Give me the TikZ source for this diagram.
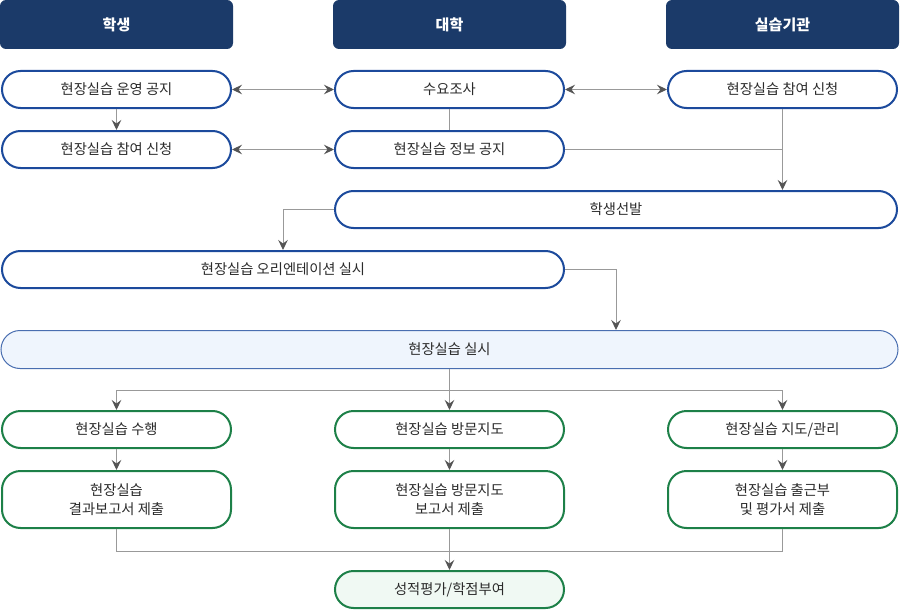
\documentclass[tikz,border=0pt]{standalone}
\usepackage{fontspec}
\setmainfont{Noto Sans CJK KR}
\usepackage{xcolor}
\usetikzlibrary{arrows.meta}

\definecolor{navy}{HTML}{1B3A69}
\definecolor{boxblue}{HTML}{1C4A9C}
\definecolor{boxgreen}{HTML}{1D8048}
\definecolor{lightblue}{HTML}{EFF5FD}
\definecolor{lightgreen}{HTML}{F0F9F3}
\definecolor{txt}{HTML}{2B2B2B}
\definecolor{wire}{HTML}{999999}
\definecolor{tip}{HTML}{555555}

\begin{document}
\begin{tikzpicture}[x=1pt,y=-1pt,
    head/.style={fill=navy,text=white,rounded corners=6pt,minimum width=233pt,
      minimum height=49pt,inner sep=0pt,font=\fontsize{15}{18}\selectfont\bfseries},
    bluebox/.style={draw=boxblue,line width=2pt,fill=white,rounded corners=18.5pt,
      minimum height=37pt,inner sep=0pt,text=txt,font=\fontsize{14.3}{19}\selectfont},
    greenbox/.style={bluebox,draw=boxgreen,align=center},
    run/.style={bluebox,line width=1pt,draw=boxblue!80,fill=lightblue,minimum height=38pt,rounded corners=19pt},
    wide/.style={minimum width=#1},
    link/.style={draw=wire,line width=1pt},
    arr/.style={link,-{Stealth[length=10pt,width=9.5pt,inset=3.5pt,color=tip]}},
    both/.style={link,{Stealth[length=10pt,width=9.5pt,inset=3.5pt,color=tip]}-{Stealth[length=10pt,width=9.5pt,inset=3.5pt,color=tip]}}]
      \useasboundingbox (0,0) rectangle (900,610);
      % headers
      \node[head] (hStu)  at (116.5,24.5) {학생};
      \node[head] (hUni)  at (449.5,24.5) {대학};
      \node[head] (hInst) at (782.5,24.5) {실습기관};
      % first stage
      \node[bluebox,wide=229pt] (notice)  at (116.5,89.5) {현장실습 운영 공지};
      \node[bluebox,wide=229pt] (apply)   at (116.5,149.5) {현장실습 참여 신청};
      \node[bluebox,wide=229pt] (survey)  at (449.5,89.5) {수요조사};
      \node[bluebox,wide=229pt] (info)    at (449.5,149.5) {현장실습 정보 공지};
      \node[bluebox,wide=229pt] (instApp) at (782.5,89.5) {현장실습 참여 신청};
      \node[bluebox,wide=562pt] (select)  at (616,209.5) {학생선발};
      \node[bluebox,wide=562pt] (orient)  at (283,269.5) {현장실습 오리엔테이션 실시};
      \node[run,wide=897pt]     (intern)  at (449.5,349.5) {현장실습 실시};
      % second stage
      \node[greenbox,wide=229pt] (perform) at (116.5,429.5) {현장실습 수행};
      \node[greenbox,wide=229pt] (visit)   at (449.5,429.5) {현장실습 방문지도};
      \node[greenbox,wide=229pt] (manage)  at (782.5,429.5) {현장실습 지도/관리};
      \node[greenbox,wide=229pt,minimum height=57pt] (result) at (116.5,499.5) {현장실습\\결과보고서 제출};
      \node[greenbox,wide=229pt,minimum height=57pt] (vrep)   at (449.5,499.5) {현장실습 방문지도\\보고서 제출};
      \node[greenbox,wide=229pt,minimum height=57pt] (attend) at (782.5,499.5) {현장실습 출근부\\및 평가서 제출};
      \node[greenbox,wide=229pt,fill=lightgreen] (grade) at (449.5,589.5) {성적평가/학점부여};
      % connectors
      \coordinate (split) at (449.5,390);
      \coordinate (merge) at (449.5,551);
      \draw[arr] (notice) -- (apply);
      \draw[both] (notice) -- (survey);
      \draw[both] (survey) -- (instApp);
      \draw[both] (apply) -- (info);
      \draw[link] (survey) -- (info);
      \draw[link] (info.east) -- (info.east -| instApp.south);
      \draw[arr] (instApp.south) -- (instApp.south |- select.north);
      \draw[arr] (select.west) -| (orient.north);
      \draw[arr] (orient.east) -| ([xshift=-282pt]select.north east |- intern.north);
      \draw[link] (intern.south) -- (split);
      \draw[arr] (split) -| (perform.north);
      \draw[arr] (split) -- (visit.north);
      \draw[arr] (split) -| (manage.north);
      \draw[arr] (perform) -- (result);
      \draw[arr] (visit) -- (vrep);
      \draw[arr] (manage) -- (attend);
      \draw[link] (result.south) |- (merge);
      \draw[link] (attend.south) |- (merge);
      \draw[arr] (vrep.south) -- (grade.north);
\end{tikzpicture}
\end{document}
